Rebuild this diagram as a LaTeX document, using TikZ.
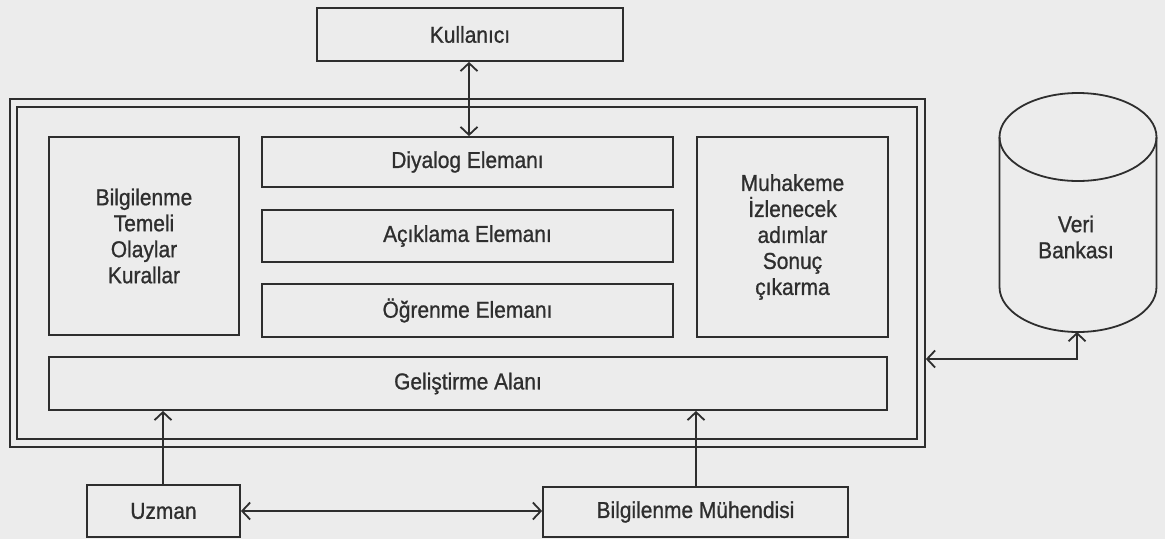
\documentclass[tikz,border=0pt]{standalone}
\usepackage{fontspec}
\setmainfont[FakeStretch=0.91,FakeBold=0.9]{Liberation Sans}
\usetikzlibrary{arrows.meta}
\definecolor{bg}{HTML}{ECECEC}
\definecolor{ink}{HTML}{2E2E2E}
\begin{document}
\begin{tikzpicture}[x=1pt,y=-1pt,
  box/.style={draw=ink, line width=1.8pt, rectangle, inner sep=0pt, text=ink,
    font=\fontsize{23}{26}\selectfont, align=center},
  frame/.style={draw=ink, line width=1.7pt, rectangle, inner sep=0pt},
  conn/.style={draw=ink, line width=1.8pt},
  tipb/.tip={Straight Barb[length=8pt,width=17pt]},
  lbl/.style={text=ink, font=\fontsize{23}{26}\selectfont, align=center, inner sep=0pt}]
\path[fill=bg] (0,0) rectangle (1165,539);
\useasboundingbox (0,0) rectangle (1165,539);
% frames
\node[frame, minimum width=915pt, minimum height=348pt] (fout) at (467.5,273) {};
\node[frame, minimum width=900pt, minimum height=332pt] (fin) at (467,273) {};
% boxes
\node[box, minimum width=306pt, minimum height=53pt] (kul) at (470,34.5) {Kullanıcı};
\node[box, minimum width=190pt, minimum height=198pt] (bt) at (144,236) {Bilgilenme\\Temeli\\Olaylar\\Kurallar};
\node[box, minimum width=411pt, minimum height=50pt] (dy) at (467.5,162) {Diyalog Elemanı};
\node[box, minimum width=411pt, minimum height=52pt] (ac) at (467.5,236) {Açıklama Elemanı};
\node[box, minimum width=411pt, minimum height=53pt] (og) at (467.5,310.5) {Öğrenme Elemanı};
\node[box, minimum width=191pt, minimum height=200pt] (mu) at (792.5,237) {Muhakeme\\İzlenecek\\adımlar\\Sonuç\\çıkarma};
\node[box, minimum width=838pt, minimum height=53pt] (ge) at (468,383.5) {Geliştirme Alanı};
\node[box, minimum width=153pt, minimum height=52pt] (uz) at (163.5,511) {Uzman};
\node[box, minimum width=305pt, minimum height=50pt] (bm) at (695.5,512) {Bilgilenme Mühendisi};
% database cylinder
\draw[ink, line width=1.8pt] (1078,137) ellipse [x radius=78.5, y radius=44];
\draw[ink, line width=1.8pt] (999.5,137) -- (999.5,287) arc[start angle=180, end angle=0, x radius=78.5, y radius=45] -- (1156.5,137);
\node[lbl] (db) at (1076,237) {Veri\\Bankası};
\coordinate (dbbot) at (1077,332);
\coordinate (turn) at (1077,359);
% connectors
\draw[conn, {tipb}-{tipb}] (kul.south -| 469,0) -- (dy.north -| 469,0);
\draw[conn, -{tipb}] (uz.north -| 163,0) -- (ge.south -| 163,0);
\draw[conn, -{tipb}] (bm.north -| 696,0) -- (ge.south -| 696,0);
\draw[conn, {tipb}-{tipb}] (uz.east) -- (uz.east -| bm.west);
\draw[conn, {tipb}-{tipb}] (dbbot) -- (turn) -- (fout.east |- turn);
\end{tikzpicture}
\end{document}
